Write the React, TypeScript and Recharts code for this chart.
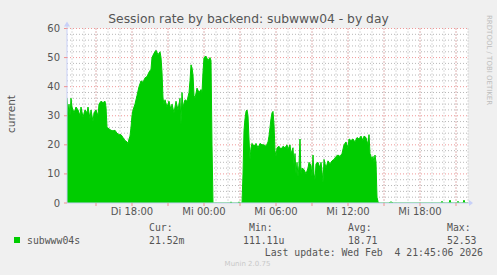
import React from 'react';
import { ComposedChart, Area, XAxis, YAxis, CartesianGrid } from 'recharts';

// time in minutes since Tue 00:00
const minutes = [
  755, 760, 765, 770, 775, 780, 790, 800, 810, 820, 825, 835, 845, 855, 860, 870, 875, 885, 890, 900,
  910, 915, 925, 935, 945, 950, 955, 965, 975, 985, 995, 1005, 1015, 1025, 1035, 1045, 1055, 1060, 1065, 1070,
  1075, 1080, 1085, 1095, 1105, 1115, 1125, 1135, 1145, 1155, 1165, 1175, 1180, 1190, 1200, 1210, 1220, 1225, 1230, 1235,
  1240, 1245, 1255, 1265, 1275, 1280, 1290, 1300, 1310, 1315, 1320, 1325, 1330, 1335, 1345, 1355, 1365, 1370, 1375, 1380,
  1385, 1390, 1395, 1405, 1415, 1425, 1430, 1435, 1440, 1450, 1460, 1470, 1475, 1480, 1485, 1570, 1575, 1580, 1610, 1615,
  1620, 1630, 1635, 1640, 1645, 1650, 1655, 1660, 1665, 1670, 1675, 1680, 1690, 1700, 1710, 1720, 1730, 1740, 1750, 1760,
  1765, 1770, 1775, 1780, 1785, 1790, 1795, 1800, 1805, 1815, 1825, 1835, 1845, 1855, 1860, 1870, 1875, 1885, 1890, 1895,
  1900, 1905, 1910, 1915, 1920, 1925, 1930, 1940, 1950, 1960, 1965, 1975, 1980, 1985, 1990, 1995, 2000, 2010, 2020, 2025,
  2030, 2035, 2040, 2050, 2060, 2070, 2080, 2090, 2100, 2110, 2120, 2130, 2140, 2150, 2160, 2165, 2175, 2185, 2195, 2205,
  2215, 2225, 2235, 2240, 2250, 2260, 2265, 2270, 2280, 2285, 2290, 2295, 2300, 2305, 2310, 2315, 2365, 2370, 2380, 2385,
  2625, 2630, 2635, 2665, 2670, 2675, 2705, 2710, 2715, 2735, 2740, 2745, 2760,
];

const sessions = [
  36, 31, 34, 30, 36, 33, 31, 33, 32, 30, 33, 29.5, 32, 31, 33, 29, 32, 28, 31, 32,
  30, 34, 35, 34.5, 35, 33, 26, 25.5, 25, 24.8, 25, 24, 23.5, 23.5, 22.5, 21.5, 21, 20.5, 22, 23,
  26, 30, 32, 34, 37, 40, 42, 41.5, 43, 43.5, 45, 46, 50, 51.5, 52.5, 51, 52, 50, 45, 36,
  34, 35.5, 33, 35, 32, 34, 31, 35, 32, 34, 36, 27, 38, 33, 35.5, 35, 38, 42, 47.5, 46.5,
  44, 37, 36, 39.5, 38, 39, 38, 45, 50, 50.5, 49, 50, 49, 20, 0, 0, 0.4, 0, 0, 0.4,
  0, 0, 10, 25, 29, 31.5, 32, 30, 22, 15, 19, 20.5, 19.5, 20.5, 19, 20.5, 20, 20, 19.5, 21,
  23, 26, 29, 31, 31.5, 27, 18, 16, 19, 19.5, 18.5, 19.5, 19, 20, 18.5, 20, 17, 19, 13, 17,
  10, 14, 9, 13, 22, 10, 12, 11.5, 10, 12, 14, 13, 9, 16.5, 10, 8, 13.5, 14, 12, 14,
  11, 7, 15, 12, 14.5, 13.5, 14.5, 15, 16, 16.5, 16, 17, 20, 21, 19, 22, 21.5, 22, 21, 22.5,
  22, 23, 21.5, 23, 22.5, 20, 23.5, 17, 15, 16, 14, 16.5, 14, 2, 0.5, 0, 0, 0.3, 0.3, 0,
  0, 0.6, 0, 0, 1, 0, 0, 0.6, 0, 0, 1, 0, 0,
];

const xMajorTicks = [900, 1080, 1260, 1440, 1620, 1800, 1980, 2160, 2340, 2520, 2700];
const xMinorTicks = [
  780, 840, 900, 960, 1020, 1080, 1140, 1200, 1260, 1320, 1380, 1440, 1500, 1560, 1620, 1680, 1740,
  1800, 1860, 1920, 1980, 2040, 2100, 2160, 2220, 2280, 2340, 2400, 2460, 2520, 2580, 2640, 2700, 2760,
];
const xTickLabels: Record<number, string> = {
  1080: 'Di 18:00',
  1440: 'Mi 00:00',
  1800: 'Mi 06:00',
  2160: 'Mi 12:00',
  2520: 'Mi 18:00',
};
const yMajorTicks = [0, 10, 20, 30, 40, 50, 60];
const yMinorTicks = [2, 4, 6, 8, 12, 14, 16, 18, 22, 24, 26, 28, 32, 34, 36, 38, 42, 44, 46, 48, 52, 54, 56, 58];

const seriesName = 'subwww04s';
const statLabels = ['Cur:', 'Min:', 'Avg:', 'Max:'];
const statValues = ['21.52m', '111.11u', '18.71', '52.53'];

const data = minutes.map((m, i) => ({ m, v: sessions[i] }));

const GREEN = '#00CC00';
const AXIS = '#C8D0F8';
const TEXT = '#555555';
const MONO = "'DejaVu Sans Mono', monospace";
const SANS = "'DejaVu Sans', sans-serif";

const scaleOf = (axis: any) => (v: number) => {
  const s = axis && axis.scale;
  if (typeof s === 'function') return s(v);
  if (s && typeof s.map === 'function') return s.map(v);
  return 0;
};

const XArrow = (props: any) => {
  const vb = props.viewBox || {};
  const x = vb.x + vb.width;
  const y = vb.y;
  return (
    <g>
      <line x1={x} y1={y} x2={x + 3} y2={y} stroke={AXIS} />
      <polygon points={`${x + 1},${y - 3} ${x + 5},${y} ${x + 1},${y + 3}`} fill={AXIS} />
    </g>
  );
};

const YArrow = (props: any) => {
  const vb = props.viewBox || {};
  const x = vb.x + vb.width;
  const y = vb.y;
  return (
    <g>
      <line x1={x} y1={y} x2={x} y2={y - 4} stroke={AXIS} />
      <polygon points={`${x - 3},${y - 2} ${x},${y - 7} ${x + 3},${y - 2}`} fill={AXIS} />
    </g>
  );
};

export default function App() {
  const statX = [149, 249, 348, 447];
  const valX = [149, 243, 348, 447];
  return (
    <div style={{ position: 'fixed', left: 0, top: 0, width: 497, height: 275, background: '#F0F0F0', overflow: 'hidden' }}>
      <div style={{ position: 'absolute', left: 0, top: 0 }}>
        <ComposedChart
          width={497}
          height={275}
          data={data}
          margin={{ top: 28.5, right: 29, bottom: 52, left: 37 }}
        >
          <CartesianGrid
            fill="#FFFFFF"
            stroke="#B8B8B8"
            strokeDasharray="1 2"
            horizontalCoordinatesGenerator={(p: any) => yMinorTicks.map(scaleOf(p.yAxis))}
            verticalCoordinatesGenerator={(p: any) => xMinorTicks.map(scaleOf(p.xAxis))}
          />
          <CartesianGrid
            stroke="#F09898"
            strokeDasharray="1 2"
            horizontalCoordinatesGenerator={(p: any) => yMajorTicks.filter((t) => t > 0).map(scaleOf(p.yAxis))}
            verticalCoordinatesGenerator={(p: any) => xMajorTicks.map(scaleOf(p.xAxis))}
          />
          <XAxis
            dataKey="m"
            type="number"
            domain={[755, 2760]}
            allowDataOverflow
            ticks={xMajorTicks}
            interval={0}
            tickFormatter={(v: number) => xTickLabels[v] || ''}
            tick={{ fill: TEXT, fontSize: 10, fontFamily: SANS }}
            tickLine={{ stroke: '#F09090' }}
            tickSize={3}
            tickMargin={2}
            axisLine={{ stroke: AXIS }}
            height={20}
            label={(p: any) => <XArrow {...p} />}
          />
          <YAxis
            type="number"
            domain={[0, 60]}
            allowDataOverflow
            ticks={yMajorTicks}
            interval={0}
            tick={{ fill: TEXT, fontSize: 10, fontFamily: SANS }}
            tickLine={{ stroke: '#F09090' }}
            tickSize={3}
            tickMargin={4}
            axisLine={{ stroke: AXIS }}
            width={30}
            label={(p: any) => <YArrow {...p} />}
          />
          <Area
            type="linear"
            dataKey="v"
            stroke={GREEN}
            strokeWidth={1}
            fill={GREEN}
            fillOpacity={1}
            isAnimationActive={false}
            dot={false}
            activeDot={false}
          />
        </ComposedChart>
      </div>
      <svg width={497} height={275} style={{ position: 'absolute', left: 0, top: 0, pointerEvents: 'none' }}>
        <text x={248.5} y={19} textAnchor="middle" dominantBaseline="central" fontFamily={SANS} fontSize={12.3} fill={TEXT}>
          Session rate by backend: subwww04 - by day
        </text>
        <text
          transform="translate(11,114) rotate(-90)"
          textAnchor="middle"
          dominantBaseline="central"
          fontFamily={SANS}
          fontSize={10.5}
          fill={TEXT}
        >
          current
        </text>
        <text
          transform="translate(488.5,15) rotate(90)"
          textAnchor="start"
          dominantBaseline="central"
          fontFamily={SANS}
          fontSize={7}
          fill="#BDBDBD"
        >
          RRDTOOL / TOBI OETIKER
        </text>
        <rect x={14} y={237} width={6} height={6} fill={GREEN} />
        <text x={27} y={240} dominantBaseline="central" fontFamily={MONO} fontSize={9.8} fill={TEXT}>
          {seriesName}
        </text>
        {statLabels.map((s, i) => (
          <text key={s} x={statX[i]} y={227.5} dominantBaseline="central" fontFamily={MONO} fontSize={9.8} fill={TEXT}>
            {s}
          </text>
        ))}
        {statValues.map((s, i) => (
          <text key={s} x={valX[i]} y={240} dominantBaseline="central" fontFamily={MONO} fontSize={9.8} fill={TEXT}>
            {s}
          </text>
        ))}
        <text x={483} y={252} textAnchor="end" dominantBaseline="central" fontFamily={MONO} fontSize={9.8} fill={TEXT} style={{ whiteSpace: 'pre' }} xmlSpace="preserve">
          {'Last update: Wed Feb  4 21:45:06 2026'}
        </text>
        <text x={247.5} y={263.5} textAnchor="middle" dominantBaseline="central" fontFamily={SANS} fontSize={7} fill="#C8C8C8">
          Munin 2.0.75
        </text>
      </svg>
    </div>
  );
}
